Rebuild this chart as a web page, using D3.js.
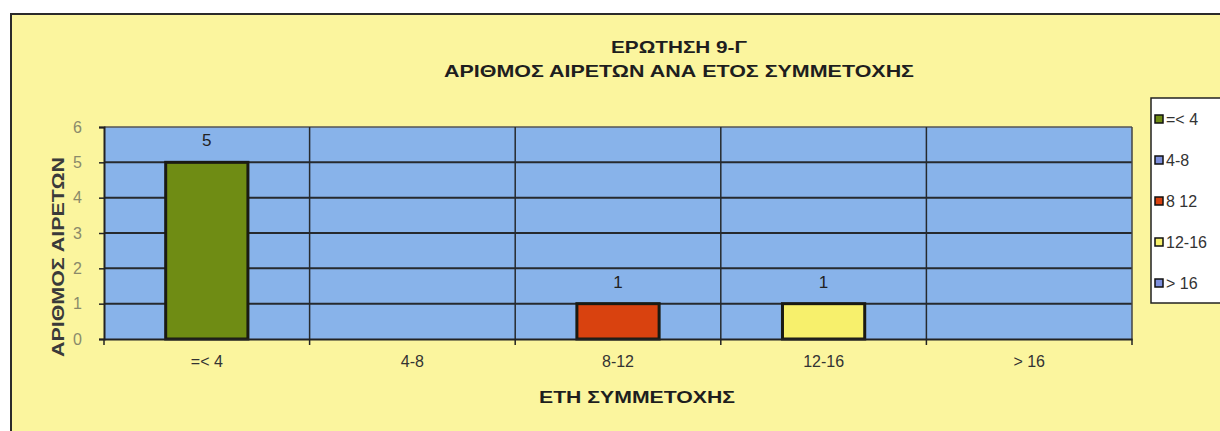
<!DOCTYPE html>
<html><head><meta charset="utf-8">
<script src="https://cdn.jsdelivr.net/npm/d3@7"></script>
<style>
html,body{margin:0;padding:0;background:#fff;}
svg{display:block;}
text{font-family:"Liberation Sans Narrow","Liberation Sans",Arial,sans-serif;}
</style></head>
<body>
<script>
// ---- data ----
const categories = ["=< 4", "4-8", "8-12", "12-16", "> 16"];
const values = [5, 0, 1, 1, 0];
const legendLabels = ["=< 4", "4-8", "8 12", "12-16", "> 16"];
const barColors = ["#6f8c14", "#7d8fdc", "#d9420f", "#f7f06c", "#7d8fdc"];
const yTicks = [0, 1, 2, 3, 4, 5, 6];
const titleLines = ["ΕΡΩΤΗΣΗ 9-Γ", "ΑΡΙΘΜΟΣ ΑΙΡΕΤΩΝ ΑΝΑ ΕΤΟΣ ΣΥΜΜΕΤΟΧΗΣ"];
const xTitle = "ΕΤΗ ΣΥΜΜΕΤΟΧΗΣ";
const yTitle = "ΑΡΙΘΜΟΣ ΑΙΡΕΤΩΝ";

const W = 1220, H = 431;
const svg = d3.select("body").append("svg").attr("width", W).attr("height", H);

// chart background
svg.append("rect").attr("x", 11).attr("y", 14).attr("width", W).attr("height", H)
  .attr("fill", "#fbf59e");
svg.append("path").attr("d", `M11,${H} V14 H${W}`).attr("fill", "none")
  .attr("stroke", "#2b2b2b").attr("stroke-width", 2);

const plot = {left: 104, right: 1132, top: 127, bottom: 339};
const x = d3.scaleBand().domain(categories).range([plot.left, plot.right]).paddingInner(0).paddingOuter(0);
const y = d3.scaleLinear().domain([0, 6]).range([plot.bottom, plot.top]);

// plot area
svg.append("rect").attr("x", plot.left).attr("y", plot.top)
  .attr("width", plot.right - plot.left).attr("height", plot.bottom - plot.top)
  .attr("fill", "#88b3ea");

// horizontal grid
svg.append("g").selectAll("line").data(yTicks.filter(d => d > 0)).join("line")
  .attr("x1", plot.left).attr("x2", plot.right)
  .attr("y1", d => y(d)).attr("y2", d => y(d))
  .attr("stroke", d => d === 6 ? "#555" : "#262a2e").attr("stroke-width", d => d === 6 ? 1.5 : 2);

// vertical grid at category boundaries
const bounds = categories.slice(1).map(c => x(c));
svg.append("g").selectAll("line").data(bounds).join("line")
  .attr("x1", d => d).attr("x2", d => d).attr("y1", plot.top).attr("y2", plot.bottom)
  .attr("stroke", "#262a2e").attr("stroke-width", 1.5);
svg.append("line").attr("x1", plot.right).attr("x2", plot.right)
  .attr("y1", plot.top).attr("y2", plot.bottom).attr("stroke", "#444").attr("stroke-width", 1.5);

// bars
const bw = x.bandwidth() * 0.4;
svg.append("g").selectAll("rect").data(categories.map((c, i) => ({c, v: values[i], col: barColors[i]})).filter(d => d.v > 0))
  .join("rect")
  .attr("x", d => x(d.c) + (x.bandwidth() - bw) / 2)
  .attr("y", d => y(d.v))
  .attr("width", bw)
  .attr("height", d => y(0) - y(d.v))
  .attr("fill", d => d.col)
  .attr("stroke", "#1a1a12").attr("stroke-width", 3);

// value labels
svg.append("g").selectAll("text").data(categories.map((c, i) => ({c, v: values[i]})).filter(d => d.v > 0))
  .join("text")
  .attr("x", d => x(d.c) + x.bandwidth() / 2)
  .attr("y", d => y(d.v) - 16)
  .attr("text-anchor", "middle").attr("font-size", 17).attr("fill", "#222")
  .text(d => d.v);

// y axis
const yAxis = svg.append("g").attr("transform", `translate(${plot.left},0)`)
  .call(d3.axisLeft(y).tickValues(yTicks).tickSize(5).tickPadding(17).tickFormat(d3.format("d")));
yAxis.select(".domain").attr("stroke", "#222").attr("stroke-width", 2);
yAxis.selectAll(".tick line").attr("stroke", "#222").attr("stroke-width", 1.5);
yAxis.selectAll(".tick text").attr("font-size", 16).attr("fill", "#8a8a6a")
  .style("font-family", "'Liberation Sans Narrow','Liberation Sans',Arial,sans-serif");

// x axis
const xAxis = svg.append("g").attr("transform", `translate(0,${plot.bottom})`)
  .call(d3.axisBottom(x).tickSize(0).tickPadding(17));
xAxis.select(".domain").attr("stroke", "#222").attr("stroke-width", 2);
xAxis.selectAll(".tick text").attr("font-size", 16).attr("fill", "#333")
  .style("font-family", "'Liberation Sans Narrow','Liberation Sans',Arial,sans-serif");
svg.append("g").selectAll("line").data([plot.left, ...bounds, plot.right]).join("line")
  .attr("x1", d => d).attr("x2", d => d).attr("y1", plot.bottom).attr("y2", plot.bottom + 6)
  .attr("stroke", "#222").attr("stroke-width", 1.5);

// titles
svg.append("text").attr("x", 679).attr("y", 53).attr("text-anchor", "middle")
  .attr("font-size", 17).attr("font-weight", "bold").attr("fill", "#1e1e1e")
  .attr("textLength", 136).attr("lengthAdjust", "spacingAndGlyphs").text(titleLines[0]);
svg.append("text").attr("x", 679).attr("y", 77).attr("text-anchor", "middle")
  .attr("font-size", 17).attr("font-weight", "bold").attr("fill", "#1e1e1e")
  .attr("textLength", 470).attr("lengthAdjust", "spacingAndGlyphs").text(titleLines[1]);

svg.append("text").attr("x", 637).attr("y", 403).attr("text-anchor", "middle")
  .attr("font-size", 17).attr("font-weight", "bold").attr("fill", "#1e1e1e")
  .attr("textLength", 196).attr("lengthAdjust", "spacingAndGlyphs").text(xTitle);

svg.append("text").attr("transform", "translate(64,257) rotate(-90)").attr("text-anchor", "middle")
  .attr("font-size", 17).attr("font-weight", "bold").attr("fill", "#3a3a3a")
  .attr("textLength", 200).attr("lengthAdjust", "spacingAndGlyphs").text(yTitle);

// legend
const lg = svg.append("g");
lg.append("rect").attr("x", 1151).attr("y", 98).attr("width", 100).attr("height", 205)
  .attr("fill", "#ffffff").attr("stroke", "#222").attr("stroke-width", 1.5);
const ly = d3.scalePoint().domain(legendLabels).range([119, 283]);
const items = lg.selectAll("g").data(legendLabels.map((l, i) => ({l, col: barColors[i]}))).join("g")
  .attr("transform", d => `translate(1155,${ly(d.l)})`);
items.append("rect").attr("x", 0).attr("y", -4).attr("width", 8).attr("height", 8)
  .attr("fill", d => d.col).attr("stroke", "#111").attr("stroke-width", 1.5);
items.append("text").attr("x", 11).attr("y", 6).attr("font-size", 16).attr("fill", "#333")
  .text(d => d.l);
</script>
</body></html>
